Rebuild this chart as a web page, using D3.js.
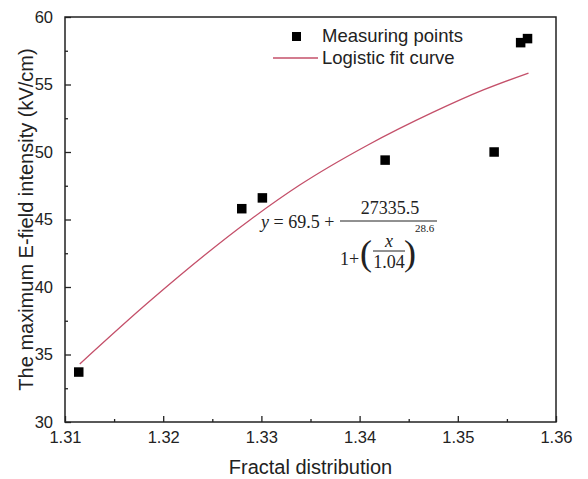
<!DOCTYPE html>
<html>
<head>
<meta charset="utf-8">
<script src="https://cdn.jsdelivr.net/npm/d3@7"></script>
<style>
  body { margin: 0; background: #fff; }
  text { font-family: "Liberation Sans", Arial, sans-serif; fill: #222; }
  .eq text { font-family: "Liberation Serif", "Times New Roman", serif; }
</style>
</head>
<body>
<div id="chart-area"></div>
<script>
// measured points
let pointX = [1.3114, 1.3280, 1.3301, 1.3426, 1.3537, 1.3564, 1.3571];
let pointY = [33.7, 45.8, 46.6, 49.4, 50.0, 58.1, 58.4];

// fit curve
let curveX = [1.3115, 1.3187, 1.3288, 1.3339, 1.3408, 1.3475, 1.3526, 1.3572];
let curveY = [34.3, 39.0, 44.95, 47.55, 50.5, 52.95, 54.6, 55.85];

let xTicks = [1.31, 1.32, 1.33, 1.34, 1.35, 1.36];
let yTicks = [30, 35, 40, 45, 50, 55, 60];

let margin = { left: 65, right: 32, top: 17, bottom: 57 };
let width = 588 - margin.left - margin.right;
let height = 479 - margin.top - margin.bottom;

let svg = d3.select("#chart-area")
  .append("svg")
  .attr("width", 588)
  .attr("height", 479);

let g = svg.append("g")
  .attr("transform", "translate(" + margin.left + ", " + margin.top + ")");

let x = d3.scaleLinear().domain([1.31, 1.36]).range([0, width]);
let y = d3.scaleLinear().domain([30, 60]).range([height, 0]);

// minor ticks
let xMinor = d3.range(0, 5).map(i => 1.315 + i * 0.01);
let yMinor = d3.range(0, 6).map(i => 32.5 + i * 5);

g.append("g")
  .attr("transform", "translate(0," + height + ")")
  .call(d3.axisBottom(x).tickValues(xMinor).tickSize(-3).tickFormat(""))
  .call(a => a.select(".domain").remove());
g.append("g")
  .call(d3.axisLeft(y).tickValues(yMinor).tickSize(-3).tickFormat(""))
  .call(a => a.select(".domain").remove());

let xAxis = g.append("g")
  .attr("transform", "translate(0," + height + ")")
  .call(d3.axisBottom(x).tickValues(xTicks).tickSize(-6).tickPadding(9).tickFormat(d3.format(".2f")));
xAxis.selectAll("text").attr("font-size", "16.5px").attr("dy", "0.71em");

let yAxis = g.append("g")
  .call(d3.axisLeft(y).tickValues(yTicks).tickSize(-6).tickPadding(12));
yAxis.selectAll("text").attr("font-size", "16.5px");

g.selectAll(".domain").remove();
g.selectAll(".tick line").attr("stroke", "#222").attr("stroke-width", 1.3);

// frame
g.append("rect")
  .attr("width", width)
  .attr("height", height)
  .attr("fill", "none")
  .attr("stroke", "#222")
  .attr("stroke-width", 1.5);

// curve
let line = d3.line()
  .x((d, i) => x(curveX[i]))
  .y(d => y(d))
  .curve(d3.curveMonotoneX);
g.append("path")
  .datum(curveY)
  .attr("d", line)
  .attr("fill", "none")
  .attr("stroke", "#c4506a")
  .attr("stroke-width", 1.3);

// points
g.selectAll(".pt")
  .data(pointY)
  .enter()
  .append("rect")
  .attr("class", "pt")
  .attr("x", (d, i) => x(pointX[i]) - 4.75)
  .attr("y", d => y(d) - 4.75)
  .attr("width", 9.5)
  .attr("height", 9.5)
  .attr("fill", "#000");

// legend
let lg = svg.append("g");
lg.append("rect").attr("x", 292).attr("y", 32).attr("width", 9).attr("height", 9).attr("fill", "#000");
lg.append("text").attr("x", 322).attr("y", 42).attr("font-size", "18.5px").text("Measuring points");
lg.append("line").attr("x1", 273).attr("x2", 318).attr("y1", 58).attr("y2", 58)
  .attr("stroke", "#c4506a").attr("stroke-width", 1.3);
lg.append("text").attr("x", 322).attr("y", 64).attr("font-size", "18.5px").text("Logistic fit curve");

// equation
let eq = svg.append("g").attr("class", "eq");
eq.append("text").attr("x", 261).attr("y", 228).attr("font-size", "18px")
  .html('<tspan font-style="italic">y</tspan> = 69.5 +');
eq.append("text").attr("x", 390).attr("y", 214).attr("font-size", "18px")
  .attr("text-anchor", "middle").text("27335.5");
eq.append("line").attr("x1", 340).attr("x2", 437).attr("y1", 221).attr("y2", 221)
  .attr("stroke", "#222").attr("stroke-width", 1);
eq.append("text").attr("x", 340).attr("y", 265).attr("font-size", "18px").text("1+");
eq.append("text").attr("x", 360).attr("y", 265).attr("font-size", "36px").text("(");
eq.append("text").attr("x", 404).attr("y", 265).attr("font-size", "36px").text(")");
eq.append("text").attr("x", 389).attr("y", 247).attr("font-size", "18px")
  .attr("font-style", "italic").attr("text-anchor", "middle").text("x");
eq.append("line").attr("x1", 373).attr("x2", 405).attr("y1", 251).attr("y2", 251)
  .attr("stroke", "#222").attr("stroke-width", 1);
eq.append("text").attr("x", 389).attr("y", 268).attr("font-size", "18px")
  .attr("text-anchor", "middle").text("1.04");
eq.append("text").attr("x", 415).attr("y", 232).attr("font-size", "11px").text("28.6");

// axis labels
svg.append("text")
  .attr("x", margin.left + width / 2)
  .attr("y", 474)
  .attr("font-size", "20px")
  .attr("text-anchor", "middle")
  .text("Fractal distribution");

svg.append("text")
  .attr("x", -(margin.top + height / 2))
  .attr("y", 33)
  .attr("font-size", "20px")
  .attr("text-anchor", "middle")
  .attr("transform", "rotate(-90)")
  .text("The maximum E-field intensity (kV/cm)");
</script>
</body>
</html>
